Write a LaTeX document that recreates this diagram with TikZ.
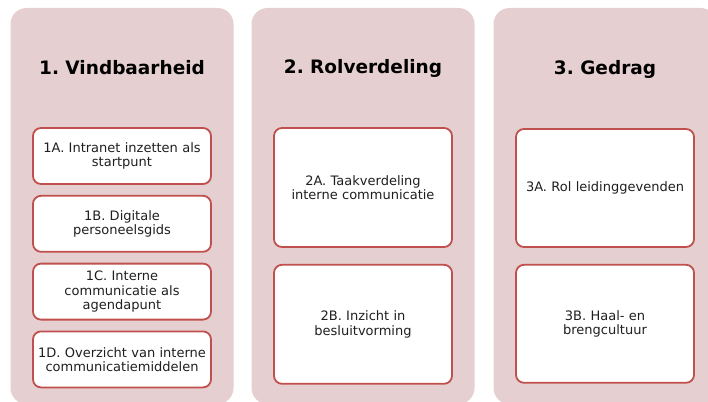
\documentclass[tikz,border=0pt]{standalone}
\usepackage{fontspec}
\setmainfont{DejaVu Sans}
\usepackage{xcolor}
\usetikzlibrary{positioning}
\definecolor{kolomroze}{RGB}{230,207,208}
\definecolor{vakrand}{RGB}{192,80,77}
\frenchspacing

\begin{document}
\begin{tikzpicture}[x=1pt,y=-1pt,
    kolom/.style={fill=kolomroze,rounded corners=16pt,minimum width=223pt,minimum height=396pt,inner sep=0pt},
    kop/.style={font=\bfseries\fontsize{18.5}{21}\selectfont,text=black},
    vak/.style={draw=vakrand,line width=1.8pt,fill=white,rounded corners=8pt,
                minimum width=178pt,text width=178pt,align=center,inner sep=0pt,
                font=\fontsize{13}{14.5}\selectfont,text=black!88}]
    \clip (0,0) rectangle (708,401);
    \node[kolom] (k1) at (122,206) {};
    \node[kolom] (k2) at (363,206) {};
    \node[kolom] (k3) at (605,206) {};
    \node[kop] (t1) at (122,68) {1. Vindbaarheid};
    \node[kop] (t2) at (363,68) {2. Rolverdeling};
    \node[kop] (t3) at (605,69) {3. Gedrag};
    \node[vak,minimum height=56pt] (v1a) at (122,156) {1A. Intranet inzetten als\\startpunt};
    \node[vak,minimum height=56pt,below=10pt of v1a] (v1b) {1B. Digitale\\personeelsgids};
    \node[vak,minimum height=56pt,below=10pt of v1b] (v1c) {1C. Interne\\communicatie als\\agendapunt};
    \node[vak,minimum height=56pt,below=10pt of v1c] (v1d) {1D. Overzicht van interne\\communicatiemiddelen};
    \node[vak,minimum height=119pt] (v2a) at (363,187.5) {2A. Taakverdeling\\interne communicatie};
    \node[vak,minimum height=119pt,below=16pt of v2a] (v2b) {2B. Inzicht in\\besluitvorming};
    \node[vak,minimum height=118pt] (v3a) at (605,188) {3A. Rol leidinggevenden};
    \node[vak,minimum height=118pt,below=16pt of v3a] (v3b) {3B. Haal- en\\brengcultuur};
\end{tikzpicture}
\end{document}
